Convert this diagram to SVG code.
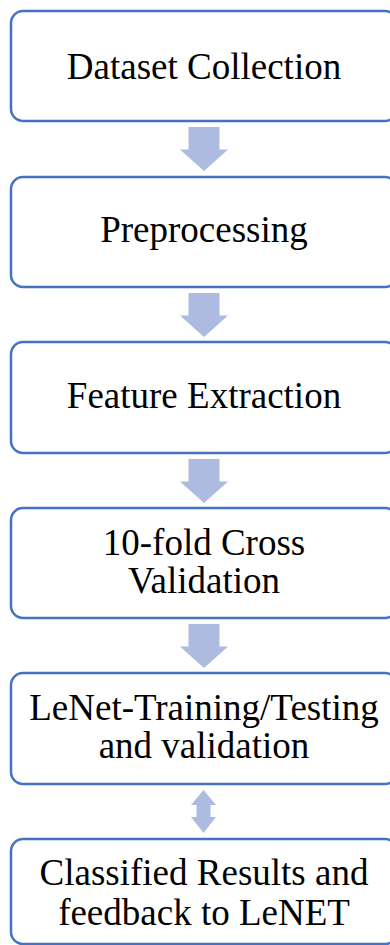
<svg xmlns="http://www.w3.org/2000/svg" width="390" height="945" viewBox="0 0 390 945">
<style>
.box{fill:#fff;stroke:#4472C4;stroke-width:2.5}
.lbl{font-family:"Liberation Serif","Times New Roman",serif;font-size:37px;fill:#000;text-anchor:middle}
.arr{fill:#AEBBE1}
</style>
<rect width="390" height="945" fill="#fff"/>
<g id="connectors">
<path class="arr" d="M188.5,127 H219.5 V149.5 H228 L204,171 L180,149.5 H188.5 Z"/>
<path class="arr" d="M188.5,293 H219.5 V315.5 H228 L204,337 L180,315.5 H188.5 Z"/>
<path class="arr" d="M188.5,459 H219.5 V481.5 H228 L204,503 L180,481.5 H188.5 Z"/>
<path class="arr" d="M188.5,624 H219.5 V646.5 H228 L204,668 L180,646.5 H188.5 Z"/>
<path class="arr" d="M203.5,790 L216,805 H210.5 V817 H216 L203.5,833 L191,817 H196.5 V805 H191 Z"/>
</g>
<g id="n1"><rect class="box" x="11" y="11" width="386" height="110" rx="12"/><text class="lbl" x="204" y="79">Dataset Collection</text></g>
<g id="n2"><rect class="box" x="11" y="177" width="386" height="110" rx="12"/><text class="lbl" x="204" y="242">Preprocessing</text></g>
<g id="n3"><rect class="box" x="11" y="342" width="386" height="111" rx="12"/><text class="lbl" x="204" y="408">Feature Extraction</text></g>
<g id="n4"><rect class="box" x="11" y="508" width="386" height="110" rx="12"/><text class="lbl" x="204" y="555">10-fold Cross</text><text class="lbl" x="204" y="593">Validation</text></g>
<g id="n5"><rect class="box" x="11" y="673" width="386" height="111" rx="12"/><text class="lbl" x="204" y="720">LeNet-Training/Testing</text><text class="lbl" x="204" y="758">and validation</text></g>
<g id="n6"><rect class="box" x="11" y="839" width="386" height="105" rx="12"/><text class="lbl" x="204" y="885">Classified Results and</text><text class="lbl" x="204" y="925">feedback to LeNET</text></g>
</svg>
